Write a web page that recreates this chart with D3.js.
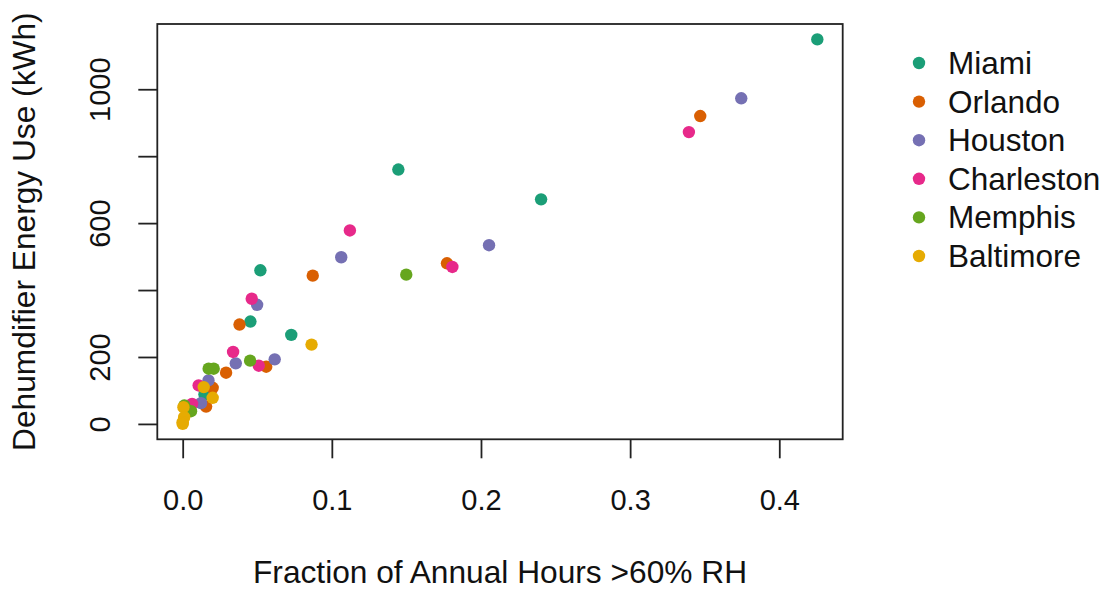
<!DOCTYPE html>
<html>
<head>
<meta charset="utf-8">
<script src="https://cdn.jsdelivr.net/npm/d3@7"></script>
<style>
  html, body { margin: 0; padding: 0; background: #fff; }
  svg text { font-family: "Liberation Sans", Arial, Helvetica, sans-serif; fill: #111; }
</style>
</head>
<body>
<svg id="chart" width="1105" height="590"></svg>
<script>
// Cities in legend order and their colours (ColorBrewer Dark2)
const cities = ["Miami", "Orlando", "Houston", "Charleston", "Memphis", "Baltimore"];
const cityColors = ["#1B9E77", "#D95F02", "#7570B3", "#E7298A", "#66A61E", "#E6AB02"];

// [fraction of annual hours above 60% RH, dehumidifier energy use in kWh]
const miami = [[0.4255, 1149], [0.1446, 760], [0.2403, 671], [0.0521, 459], [0.0454, 306], [0.0728, 266], [0.0146, 88]];
const orlando = [[0.347, 920], [0.1772, 480], [0.0872, 443], [0.0381, 297], [0.056, 171], [0.0291, 153], [0.0201, 108], [0.0157, 52]];
const houston = [[0.3745, 973], [0.2054, 534], [0.1063, 498], [0.0499, 356], [0.0617, 193], [0.0356, 181], [0.0173, 130], [0.0123, 62]];
const charleston = [[0.3394, 872], [0.1121, 578], [0.1808, 469], [0.0463, 374], [0.0338, 215], [0.051, 174], [0.0107, 115], [0.0063, 60]];
const memphis = [[0.1499, 446], [0.0452, 189], [0.0174, 165], [0.0208, 165], [0.0011, 55], [0.0056, 38]];
const baltimore = [[0.0864, 237], [0.0141, 110], [0.0201, 78], [0.0005, 50], [0.001, 20], [0.0, 5], [0.0, 0]];

const seriesValues = [miami, orlando, houston, charleston, memphis, baltimore];

// Axis ticks and the labels printed beside them
const xTicks = [0, 0.1, 0.2, 0.3, 0.4];
const xTickLabels = ["0.0", "0.1", "0.2", "0.3", "0.4"];
const yTicks = [0, 200, 400, 600, 800, 1000];
const yTickLabels = ["0", "200", "", "600", "", "1000"];

const xTitle = "Fraction of Annual Hours >60% RH";
const yTitle = "Dehumdifier Energy Use (kWh)";

// ---- layout ----
const box = { left: 157.3, right: 842.7, top: 24, bottom: 439.3 };
const tickLen = 19;
const fontTick = 29;
const fontTitle = 31.7;
const fontLegend = 31.5;

const svg = d3.select("#chart");
svg.append("rect").attr("width", 1105).attr("height", 590).attr("fill", "#fff");

// Flatten all points with their city index
const points = [];
seriesValues.forEach((vals, i) => vals.forEach(v => points.push({ x: v[0], y: v[1], city: i })));

// Domains padded by 4% on each side of the data range
function padded(ext) {
  const r = ext[1] - ext[0];
  return [ext[0] - 0.04 * r, ext[1] + 0.04 * r];
}
const x = d3.scaleLinear().domain(padded(d3.extent(points, d => d.x))).range([box.left, box.right]);
const y = d3.scaleLinear().domain(padded(d3.extent(points, d => d.y))).range([box.bottom, box.top]);
const color = d3.scaleOrdinal().domain(d3.range(cities.length)).range(cityColors);

// Points
svg.append("g").selectAll("circle").data(points).join("circle")
  .attr("cx", d => x(d.x))
  .attr("cy", d => y(d.y))
  .attr("r", 6.2)
  .attr("fill", d => color(d.city));

// Plot frame
svg.append("rect")
  .attr("x", box.left).attr("y", box.top)
  .attr("width", box.right - box.left).attr("height", box.bottom - box.top)
  .attr("fill", "none").attr("stroke", "#222").attr("stroke-width", 1.8);

// X axis
const xAxis = d3.axisBottom(x).tickValues(xTicks).tickSize(tickLen).tickSizeOuter(0)
  .tickPadding(0).tickFormat((d, i) => xTickLabels[i]);
const gx = svg.append("g").attr("transform", `translate(0,${box.bottom})`).call(xAxis);
gx.select(".domain").remove();
gx.selectAll(".tick line").attr("stroke", "#222").attr("stroke-width", 1.8);
gx.selectAll(".tick text").attr("font-size", fontTick).attr("fill", "#111")
  .attr("y", 71).attr("dy", null);

// Y axis (labels parallel to the axis)
const yAxis = d3.axisLeft(y).tickValues(yTicks).tickSize(tickLen).tickSizeOuter(0)
  .tickFormat((d, i) => yTickLabels[i]);
const gy = svg.append("g").attr("transform", `translate(${box.left},0)`).call(yAxis);
gy.select(".domain").remove();
gy.selectAll(".tick line").attr("stroke", "#222").attr("stroke-width", 1.8);
gy.selectAll(".tick text")
  .attr("font-size", fontTick).attr("fill", "#111")
  .attr("x", null).attr("dy", null)
  .attr("text-anchor", "middle")
  .attr("transform", "translate(-47,0) rotate(-90)");

// Axis titles
svg.append("text")
  .attr("x", (box.left + box.right) / 2).attr("y", 583)
  .attr("text-anchor", "middle").attr("font-size", fontTitle)
  .text(xTitle);
svg.append("text")
  .attr("transform", `translate(35,${(box.top + box.bottom) / 2}) rotate(-90)`)
  .attr("text-anchor", "middle").attr("font-size", fontTitle)
  .text(yTitle);

// Legend
const legend = svg.append("g").attr("transform", "translate(919,63)");
const rows = legend.selectAll("g").data(cities).join("g")
  .attr("transform", (d, i) => `translate(0,${i * 38.6})`);
rows.append("circle").attr("r", 6.2).attr("fill", (d, i) => cityColors[i]);
rows.append("text").attr("x", 29).attr("y", 11).attr("font-size", fontLegend).text(d => d);
</script>
</body>
</html>
